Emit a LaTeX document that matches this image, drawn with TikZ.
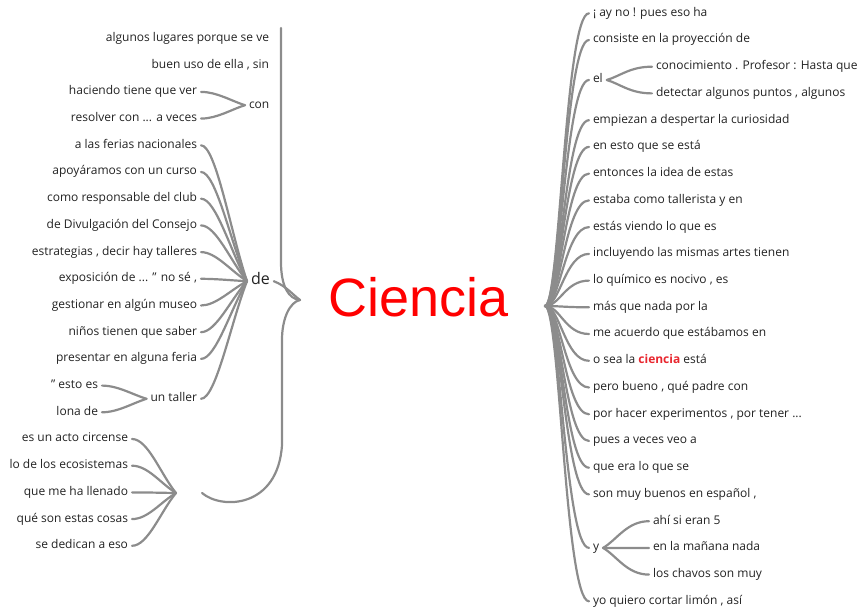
\documentclass[tikz,border=0pt]{standalone}
\usepackage{fontspec}
\setmainfont{Open Sans}
\newfontfamily\arialf{Liberation Sans}
\usetikzlibrary{calc}
\definecolor{txtc}{HTML}{222222}
\definecolor{lnc}{HTML}{8C8C8C}
\definecolor{redc}{HTML}{FF0000}
\definecolor{hlc}{HTML}{E8262E}
\begin{document}
\begin{tikzpicture}[x=1pt,y=-1pt,
  wd/.style={font=\fontsize{12}{14}\selectfont, text=txtc, inner sep=2pt, outer sep=2pt, text height=9pt, text depth=3pt},
  lt/.style={wd, anchor=east},
  rt/.style={wd, anchor=west},
  br/.style={draw=lnc, line width=2.2pt, line cap=round}]
\useasboundingbox (0,0) rectangle (863,612);

% centre
\node[font=\arialf\fontsize{54}{60}\selectfont, text=redc, anchor=base, inner sep=0pt] (ciencia) at (419,317) {Ciencia};
\coordinate (L) at (300,300);
\coordinate (topL) at (281,28);
\coordinate (R) at (545,306);
\coordinate (Rc) at (565,0);

% ---------- left side ----------
\node[lt] (a1) at (273,38.5) {algunos lugares porque se ve};
\node[lt] (a2) at (273,65.2) {buen uso de ella , sin};
\node[lt] (c1) at (201,91.9) {haciendo tiene que ver};
\node[lt] (c2) at (201,118.6) {resolver con ... a veces};
\node[rt] (con) at (245,105.2) {con};

\node[lt] (d1) at (201,145.3) {a las ferias nacionales};
\node[lt] (d2) at (201,172.0) {apoyáramos con un curso};
\node[lt] (d3) at (201,198.7) {como responsable del club};
\node[lt] (d4) at (201,225.4) {de Divulgación del Consejo};
\node[lt] (d5) at (201,252.1) {estrategias , decir hay talleres};
\node[lt] (d6) at (201,278.8) {exposición de ... ” no sé ,};
\node[lt] (d7) at (201,305.5) {gestionar en algún museo};
\node[lt] (d8) at (201,332.2) {niños tienen que saber};
\node[lt] (d9) at (201,358.9) {presentar en alguna feria};
\node[lt] (ut) at (201,398.8) {un taller};
\node[lt] (t1) at (102,385.6) {” esto es};
\node[lt] (t2) at (102,412.3) {lona de};
\node[rt, font=\fontsize{16}{18}\selectfont] (de) at (247,281.2) {de};

\node[lt] (b1) at (132,439.0) {es un acto circense};
\node[lt] (b2) at (132,465.7) {lo de los ecosistemas};
\node[lt] (b3) at (132,492.4) {que me ha llenado};
\node[lt] (b4) at (132,519.1) {qué son estas cosas};
\node[lt] (b5) at (132,545.8) {se dedican a eso};
\node[inner sep=0pt, outer sep=0pt, minimum width=26pt, minimum height=2pt] (blank) at (189,493) {};

% left connectors
\foreach \n in {c1,c2}
  \draw[br] (\n.east) .. controls ([xshift=16pt]\n.east) and ($(\n.east)!0.7!(con.west)$) .. (con.west);
\foreach \n in {d1,d2,d3,d4,d5,d6,d7,d8,d9,ut}
  \draw[br] (\n.east) .. controls ([xshift=15pt]\n.east) and ($(\n.east)!0.65!(de.west)$) .. (de.west);
\foreach \n in {t1,t2}
  \draw[br] (\n.east) .. controls ([xshift=16pt]\n.east) and ($(\n.east)!0.7!(ut.west)$) .. (ut.west);
\foreach \n in {b1,b2,b3,b4,b5}
  \draw[br] (\n.east) .. controls ([xshift=16pt]\n.east) and ($(\n.east)!0.65!(blank.west)$) .. (blank.west);

\draw[br] (L) .. controls (289,299) and (281,287) .. (281,262) -- (topL);
\draw[br] (de.east) .. controls (286,286) and (292,294) .. (L);
\draw[br] (blank.east) .. controls (222,510) and (278,508) .. (282,445) -- (282,340) .. controls (282,318) and (290,302) .. (L);

% ---------- right side ----------
\node[rt] (r0) at (589,13.3) {¡ ay no ! pues eso ha};
\node[rt] (r1) at (589,40.0) {consiste en la proyección de};
\node[rt] (el) at (589,80.0) {el};
\node[rt] (e1) at (652,66.7) {conocimiento . Profesor : Hasta que};
\node[rt] (e2) at (652,93.4) {detectar algunos puntos , algunos};
\node[rt] (r4) at (589,120.2) {empiezan a despertar la curiosidad};
\node[rt] (r5) at (589,146.9) {en esto que se está};
\node[rt] (r6) at (589,173.6) {entonces la idea de estas};
\node[rt] (r7) at (589,200.4) {estaba como tallerista y en};
\node[rt] (r8) at (589,227.1) {estás viendo lo que es};
\node[rt] (r9) at (589,253.9) {incluyendo las mismas artes tienen};
\node[rt] (r10) at (589,280.6) {lo químico es nocivo , es};
\node[rt] (r11) at (589,307.3) {más que nada por la};
\node[rt] (r12) at (589,334.0) {me acuerdo que estábamos en};
\node[rt] (r13) at (589,360.8) {o sea la {\bfseries\color{hlc}ciencia} está};
\node[rt] (r14) at (589,387.5) {pero bueno , qué padre con};
\node[rt] (r15) at (589,414.3) {por hacer experimentos , por tener ...};
\node[rt] (r16) at (589,441.0) {pues a veces veo a};
\node[rt] (r17) at (589,467.7) {que era lo que se};
\node[rt] (r18) at (589,494.4) {son muy buenos en español ,};
\node[rt] (yy) at (589,547.9) {y};
\node[rt] (y1) at (649,521.2) {ahí si eran 5};
\node[rt] (y2) at (649,547.9) {en la mañana nada};
\node[rt] (y3) at (649,574.6) {los chavos son muy};
\node[rt] (r22) at (589,601.3) {yo quiero cortar limón , así};

\foreach \n in {r0,r1,el,r4,r5,r6,r7,r8,r9,r10,r11,r12,r13,r14,r15,r16,r17,r18,yy,r22}
  \draw[br] (R) .. controls (560,306) and (\n.west -| Rc) .. (\n.west);
\foreach \n in {e1,e2}
  \draw[br] (el.east) .. controls ($(el.east)!0.3!(\n.west)$) and ([xshift=-22pt]\n.west) .. (\n.west);
\foreach \n in {y1,y2,y3}
  \draw[br] (yy.east) .. controls ($(yy.east)!0.3!(\n.west)$) and ([xshift=-22pt]\n.west) .. (\n.west);
\end{tikzpicture}
\end{document}
